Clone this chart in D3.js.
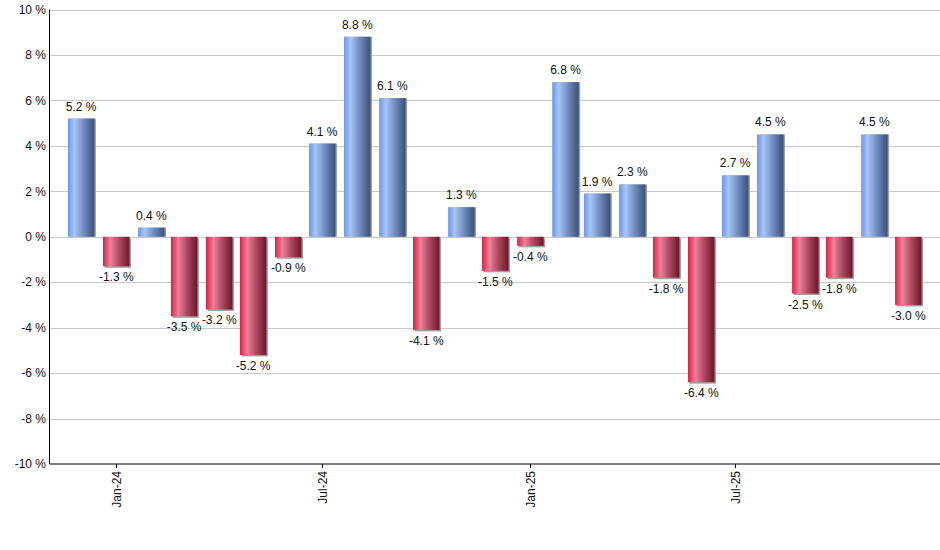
<!DOCTYPE html>
<html lang="en">
<head>
  <meta charset="UTF-8">
  <title>Monthly returns</title>
  <script src="https://d3js.org/d3.v7.min.js"></script>
  <style>
    body{margin:0;background:#fff;font-family:"Liberation Sans",Arial,sans-serif}
    svg{display:block}
    .grid line{stroke:#c8c8c8;stroke-width:1px}
    .lbl{font-size:12px;fill:#111}
  </style>
</head>
<body>
<div id="chart"></div>
<script>
// months (first of month) and monthly % change
const months=["2023-12","2024-01","2024-02","2024-03","2024-04","2024-05","2024-06",
  "2024-07","2024-08","2024-09","2024-10","2024-11","2024-12","2025-01","2025-02",
  "2025-03","2025-04","2025-05","2025-06","2025-07","2025-08","2025-09","2025-10",
  "2025-11","2025-12"];
const values=[5.2,-1.3,0.4,-3.5,-3.2,-5.2,-0.9,4.1,8.8,6.1,-4.1,1.3,-1.5,-0.4,6.8,
  1.9,2.3,-1.8,-6.4,2.7,4.5,-2.5,-1.8,4.5,-3.0];
const yTicks=[-10,-8,-6,-4,-2,0,2,4,6,8,10];
const xTicks=["2024-01","2024-07","2025-01","2025-07"];

const width=940,height=550;
const mL=49.5,mR=940,mT=9.5,mB=464;
const parse=d3.timeParse("%Y-%m");
const dates=months.map(parse);

const x=d3.scaleTime()
  .domain([d3.timeDay.offset(dates[0],-28),d3.timeDay.offset(dates[dates.length-1],28)])
  .range([mL,mR]);
const y=d3.scaleLinear().domain([-10,10]).range([mB,mT]);
const barW=26.5;

const svg=d3.select("#chart").append("svg")
  .attr("width",width).attr("height",height);

const defs=svg.append("defs");
function grad(id,stops){
  const g=defs.append("linearGradient").attr("id",id)
    .attr("x1","0%").attr("x2","100%").attr("y1","0%").attr("y2","0%");
  stops.forEach(s=>g.append("stop").attr("offset",s[0]).attr("stop-color",s[1]));
}
grad("gPos",[["0%","#6898ee"],["25%","#a9c5f5"],["60%","#6f8cc0"],["100%","#3a5077"]]);
grad("gNeg",[["0%","#dc1d48"],["28%","#ea8398"],["60%","#b04a64"],["100%","#6c1628"]]);

// "-" as a plain hyphen, like the original
const pct=v=>d3.format(".1f")(v).replace("\u2212","-")+" %";

// gridlines
svg.append("g").attr("class","grid")
  .selectAll("line").data(yTicks.filter(t=>t>-10)).join("line")
  .attr("x1",mL).attr("x2",mR)
  .attr("y1",d=>Math.round(y(d))+0.5).attr("y2",d=>Math.round(y(d))+0.5);

// y labels
svg.append("g").selectAll("text").data(yTicks).join("text")
  .attr("class","lbl").attr("text-anchor","end")
  .attr("x",46).attr("y",d=>y(d)).attr("dy","0.35em")
  .text(d=>d+" %");

// bars
const bars=svg.append("g");
const data=dates.map((d,i)=>({d,v:values[i]}));
bars.selectAll(".shadow").data(data).join("rect").attr("class","shadow")
  .attr("x",d=>x(d.d)-barW/2+1.5)
  .attr("y",d=>Math.min(y(d.v),y(0))+(d.v<0?1.5:0))
  .attr("width",barW)
  .attr("height",d=>Math.abs(y(d.v)-y(0)))
  .attr("fill","#a0a0a0");
bars.selectAll(".bar").data(data).join("rect").attr("class","bar")
  .attr("x",d=>x(d.d)-barW/2)
  .attr("y",d=>Math.min(y(d.v),y(0)))
  .attr("width",barW)
  .attr("height",d=>Math.abs(y(d.v)-y(0)))
  .attr("fill",d=>d.v>=0?"url(#gPos)":"url(#gNeg)");

// value labels
svg.append("g").selectAll("text").data(data).join("text")
  .attr("class","lbl").attr("text-anchor","middle")
  .attr("x",d=>x(d.d))
  .attr("y",d=>d.v>=0?y(d.v)-8:y(d.v)+15)
  .text(d=>pct(d.v));

// axes lines
svg.append("line").attr("x1",mL).attr("x2",mL).attr("y1",mT).attr("y2",mB)
  .attr("stroke","#000");
svg.append("line").attr("x1",mL).attr("x2",mR).attr("y1",mB).attr("y2",mB)
  .attr("stroke","#000");

// x ticks and labels
const fmt=d3.timeFormat("%b-%y");
const xt=svg.append("g").selectAll("g").data(xTicks.map(parse)).join("g")
  .attr("transform",d=>`translate(${Math.round(x(d))+0.5},${mB})`);
xt.append("line").attr("y1",0).attr("y2",4).attr("stroke","#000");
xt.append("text").attr("class","lbl").attr("text-anchor","end")
  .attr("transform","rotate(-90)").attr("x",-7).attr("dy","0.35em")
  .text(d=>fmt(d));
</script>
</body>
</html>
